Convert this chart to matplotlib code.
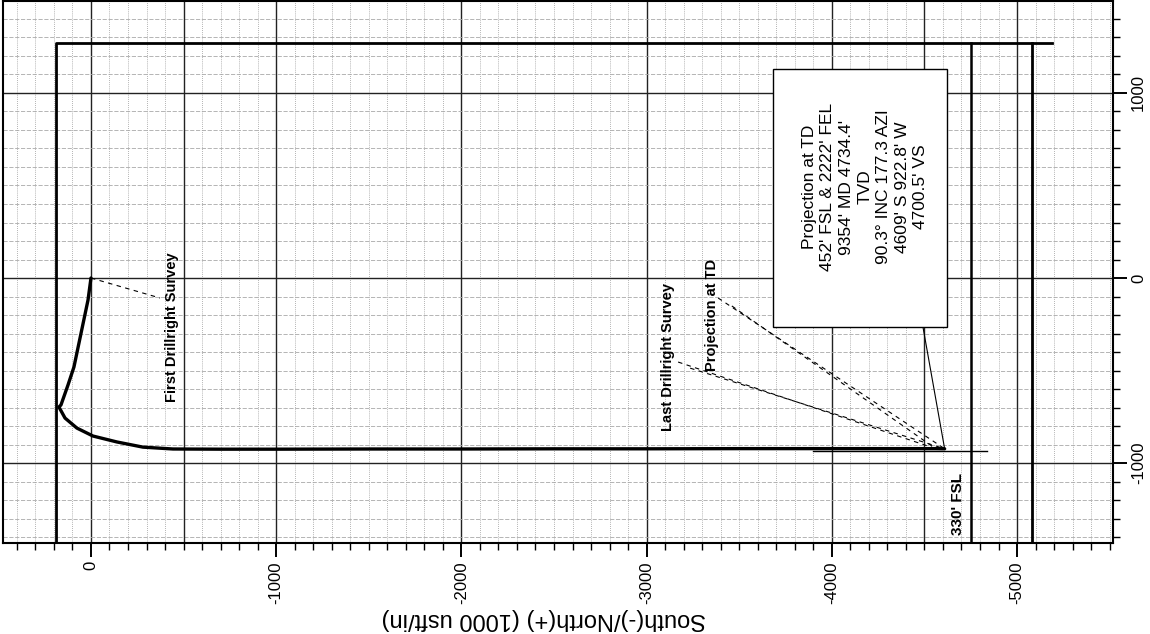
import matplotlib.pyplot as plt
from matplotlib.patches import Rectangle
from matplotlib.ticker import MultipleLocator

plt.rcParams['font.family'] = ['Liberation Sans', 'DejaVu Sans']
plt.rcParams['axes.unicode_minus'] = False

# well path in plan view (usft), drawn rotated: N/S along x, E/W along y
survey_ns = [0, 16, 92, 124, 162, 173, 140, 76, -11, -140, -281, -443,
             -700, -1000, -1500, -2000, -2500, -3000, -3500, -4000, -4300, -4560]
survey_ew = [0, -119, -481, -578, -686, -697, -757, -811, -854, -886, -914, -924,
             -925, -925, -924, -924, -923, -923, -922, -922, -922, -922]
td_ns = -4609.0
td_ew = -922.8
last_ns = -4560.0
last_ew = -922.0

# plan line running past TD
plan_ns = [-3900, -4840]
plan_ew = [-935, -935]

# lease / section lines
lease_ns = [190, 190, -5190]
lease_ew = [-1500, 1270, 1270]
south_line_ns = -5080
fsl_330_ns = -4750
extra_grid_ns = [-500, -4500]

# labels: (text, text position, leader starts)
first_label = ("First Drillright Survey", (-437, -265), [(-373, -108)])
last_label = ("Last Drillright Survey", (-3115, -427), [(-3170, -454), (-3235, -487)])
proj_label = ("Projection at TD", (-3353, -200), [(-3386, -108), (-3460, -151)])

box_text = ("Projection at TD\n452' FSL & 2222' FEL\n9354' MD 4734.4'\nTVD\n"
            "90.3\u00b0 INC 177.3 AZI\n4609' S 922.8' W\n4700.5' VS")
box_ns = (-3683, -4622)
box_ew = (1130, -265)

fig = plt.figure(figsize=(11.5, 6.34), dpi=100)
ax = fig.add_axes([3 / 1150, 91 / 634, 1110 / 1150, 542 / 634])

ax.set_xlim(475, -5518)
ax.set_ylim(-1432, 1497)

# grid
ax.xaxis.set_major_locator(MultipleLocator(1000))
ax.xaxis.set_minor_locator(MultipleLocator(100))
ax.yaxis.set_major_locator(MultipleLocator(1000))
ax.yaxis.set_minor_locator(MultipleLocator(100))
ax.grid(which='minor', axis='x', color='#9a9a9a', linestyle=(0, (1, 1.5)), linewidth=0.6)
ax.grid(which='minor', axis='y', color='#a8a8a8', linestyle=(0, (5, 2)), linewidth=0.6)
ax.grid(which='major', color='#222222', linestyle='-', linewidth=1.0)
ax.set_axisbelow(True)
for n in extra_grid_ns:
    ax.axvline(n, color='#222222', linewidth=1.0, zorder=0.6)

ax.yaxis.tick_right()
ax.tick_params(axis='both', which='major', direction='out', length=10, width=1.4,
               labelsize=12, pad=3)
ax.tick_params(axis='both', which='minor', direction='out', length=5, width=1.0)
ax.tick_params(axis='x', labelrotation=90)
ax.tick_params(axis='y', labelrotation=90)
for lab in ax.get_yticklabels():
    lab.set_verticalalignment('center')
for s in ax.spines.values():
    s.set_linewidth(1.5)

ax.set_xlabel("South(-)/North(+) (1000 usft/in)", fontsize=17, rotation=180)
ax.xaxis.set_label_coords(0.487, -0.12)

# lease lines
ax.plot(lease_ns, lease_ew, color='black', linewidth=2.0)
ax.plot([south_line_ns, south_line_ns], [lease_ew[1], lease_ew[0]], color='black', linewidth=2.0)
ax.plot([fsl_330_ns, fsl_330_ns], [lease_ew[1], lease_ew[0]], color='black', linewidth=1.8)
ax.text(fsl_330_ns + 70, -1389, "330' FSL", rotation=90, fontsize=11,
        fontweight='bold', ha='center', va='bottom')

# plan + path
ax.plot(plan_ns, plan_ew, color='black', linewidth=1.0)
ax.plot(survey_ns + [td_ns], survey_ew + [td_ew], color='black', linewidth=2.4,
        solid_capstyle='round', solid_joinstyle='round')

# labels and dashed leaders
for text, pos, starts in [first_label, last_label, proj_label]:
    ax.text(pos[0], pos[1], text, rotation=90, fontsize=10.5, fontweight='bold',
            ha='center', va='center')
dash = dict(color='black', linestyle=(0, (4, 4)), linewidth=0.8)
ax.plot([survey_ns[0], first_label[2][0][0]], [survey_ew[0], first_label[2][0][1]], **dash)
for (sn, se), (en, ee) in zip(last_label[2], [(last_ns, last_ew), (td_ns, td_ew)]):
    ax.plot([sn, en], [se, ee], **dash)
for (sn, se), (en, ee) in zip(proj_label[2], [(td_ns, td_ew), (last_ns, last_ew)]):
    ax.plot([sn, en], [se, ee], **dash)

# info box
ax.add_patch(Rectangle((box_ns[0], box_ew[1]), box_ns[1] - box_ns[0], box_ew[0] - box_ew[1],
                       facecolor='white', edgecolor='black', linewidth=1.0, zorder=4))
ax.text(-4180, 492, box_text, rotation=90, fontsize=12.5,
        ha='center', va='center', multialignment='center', linespacing=1.3, zorder=5)
ax.plot([box_ns[1] + 130, td_ns], [box_ew[1], td_ew], color='black', linewidth=0.8)

fig.savefig('out.png', dpi=100)
